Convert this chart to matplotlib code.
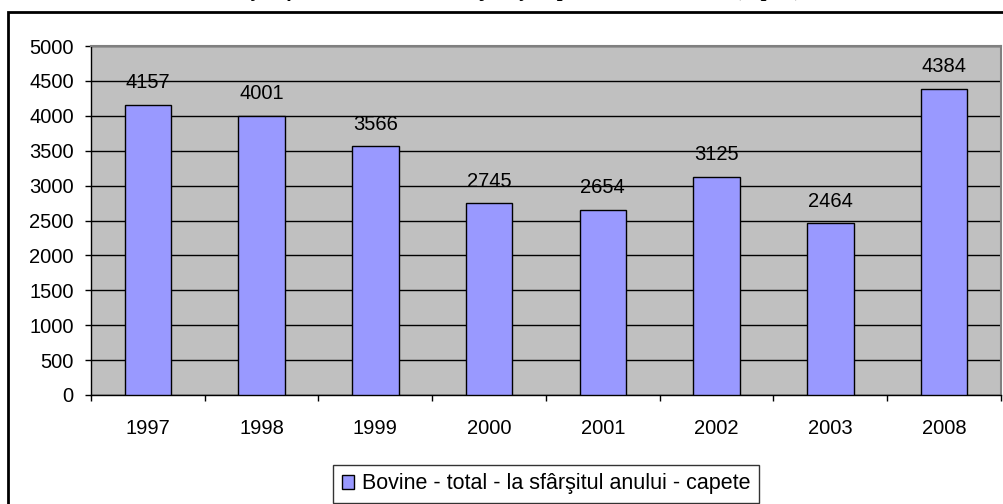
import matplotlib
matplotlib.use("Agg")
import matplotlib.pyplot as plt
from matplotlib.patches import Rectangle, Patch

years = ["1997", "1998", "1999", "2000", "2001", "2002", "2003", "2008"]
values = [4157, 4001, 3566, 2745, 2654, 3125, 2464, 4384]
series_name = "Bovine - total - la sfârşitul anului - capete"
title_text = "Evoluţia efectivelor de bovine în judeţ, în perioada 1997-2008 (capete)"

plt.rcParams['font.family'] = ['Liberation Sans', 'DejaVu Sans']

W, H = 1004, 504
fig = plt.figure(figsize=(W / 100, H / 100), dpi=100)

# outer chart frame (extends beyond the image on the right and bottom)
fig.patches.append(Rectangle((8 / W, -0.1), 1.2, (504 - 12) / H + 0.1,
                             transform=fig.transFigure, fill=False,
                             edgecolor='black', linewidth=2, zorder=0))

# clipped title, only descenders visible
fig.text(0.5, 1.0 + 4 / H, title_text, ha='center', va='baseline',
         fontsize=15, fontweight='bold', fontstyle='italic',
         family=['Liberation Serif', 'DejaVu Serif'])

FS = 14.5
left, right, top, bottom = 91, 1001, 46, 395
ax = fig.add_axes([left / W, (H - bottom) / H, (right - left) / W, (bottom - top) / H])
ax.set_facecolor('#C0C0C0')

x = list(range(len(years)))
bars = ax.bar(x, values, width=0.41, color='#9999FF', edgecolor='black',
              linewidth=1.0, zorder=3, label=series_name)

for xi, v in zip(x, values):
    ax.annotate(str(v), (xi, v), xytext=(0, 9), textcoords='offset points',
                ha='center', va='bottom', fontsize=FS)

ax.set_xlim(-0.5, len(years) - 0.5)
ax.set_ylim(0, 5000)
ax.set_yticks(range(0, 5001, 500))
ax.yaxis.grid(True, color='black', linewidth=1.0, zorder=1)
ax.set_axisbelow(True)

ax.set_xticks(x)
ax.set_xticklabels(years)
ax.set_xticks([i - 0.5 for i in range(len(years) + 1)], minor=True)
ax.tick_params(axis='x', which='major', length=0, pad=17.5, labelsize=FS)
ax.tick_params(axis='x', which='minor', length=4.5, width=1, direction='out', color='black')
ax.tick_params(axis='y', length=4.5, width=1, direction='out', pad=8, labelsize=FS)

for s in ['top', 'right']:
    ax.spines[s].set_color('#808080')
    ax.spines[s].set_linewidth(1.5)
for s in ['left', 'bottom']:
    ax.spines[s].set_color('black')
    ax.spines[s].set_linewidth(1.0)

handle = Patch(facecolor='#9999FF', edgecolor='black', linewidth=1.0)
leg = fig.legend([handle], [series_name], loc='center',
                 bbox_to_anchor=(546 / W, (H - 484) / H), frameon=True,
                 fancybox=False, edgecolor='black', fontsize=15.5,
                 handlelength=0.6, handleheight=0.6, handletextpad=0.35,
                 borderpad=0.4, borderaxespad=0)
leg.get_frame().set_linewidth(1.0)

fig.savefig("out.png", dpi=100)
